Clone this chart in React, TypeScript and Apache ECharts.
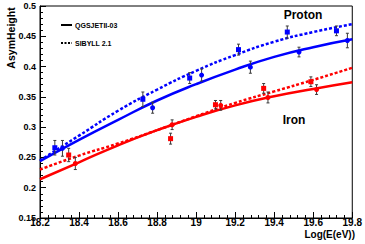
import React, { useEffect, useRef } from "react";
import * as echarts from "echarts";

// Model curves (Log(E/eV) vs AsymHeight)
const curveE = [18.2, 18.4, 18.6, 18.8, 19.0, 19.2, 19.4, 19.6, 19.8];
const protonQgsCurve = [0.244, 0.279, 0.312, 0.344, 0.371, 0.395, 0.416, 0.432, 0.445];
const protonSibCurve = [0.245, 0.286, 0.327, 0.362, 0.393, 0.419, 0.441, 0.457, 0.47];
const ironQgsCurve = [0.214, 0.242, 0.27, 0.295, 0.317, 0.336, 0.351, 0.363, 0.374];
const ironSibCurve = [0.23, 0.253, 0.273, 0.295, 0.318, 0.34, 0.359, 0.378, 0.398];

// Simulated points with errors
const protonSibE = [18.276, 18.727, 18.967, 19.217, 19.467, 19.719];
const protonSibV = [0.266, 0.346, 0.381, 0.428, 0.457, 0.459];
const protonSibErr = [0.012, 0.012, 0.009, 0.009, 0.01, 0.008];

const protonQgsE = [18.315, 18.777, 19.028, 19.278, 19.527, 19.775];
const protonQgsV = [0.265, 0.332, 0.386, 0.399, 0.424, 0.443];
const protonQgsErr = [0.013, 0.009, 0.01, 0.01, 0.008, 0.012];

const ironSibE = [18.347, 18.869, 19.099, 19.346, 19.588];
const ironSibV = [0.254, 0.281, 0.337, 0.364, 0.375];
const ironSibErr = [0.011, 0.009, 0.007, 0.008, 0.008];

const ironQgsE = [18.381, 18.877, 19.126, 19.368, 19.617];
const ironQgsV = [0.24, 0.304, 0.336, 0.349, 0.362];
const ironQgsErr = [0.01, 0.008, 0.008, 0.009, 0.008];

const legendLabels = ["QGSJETII-03", "SIBYLL 2.1"];
const yTitle = "AsymHeight";
const xTitle = "Log(E(eV))";

const FONT = "'Liberation Sans', Arial, Helvetica, sans-serif";
const BLUE = "#0000ff";
const RED = "#ff0000";

const zip2 = (a: number[], b: number[]) => a.map((v, i) => [v, b[i]]);
const zip3 = (a: number[], b: number[], c: number[]) => a.map((v, i) => [v, b[i], c[i]]);

export default function App() {
  const ref = useRef<HTMLDivElement>(null);
  useEffect(() => {
    if (!ref.current) return;
    const chart = echarts.init(ref.current, undefined, { renderer: "svg" });

    const curve = (name: string, data: number[][], color: string, dashed: boolean) => ({
      name,
      type: "line",
      data,
      smooth: true,
      showSymbol: false,
      symbol: "none",
      lineStyle: { color, width: 2.5, type: dashed ? [3, 2] : "solid" },
      z: 2,
      silent: true,
    });

    const errBars = (data: number[][]) => ({
      type: "custom",
      data,
      encode: { x: 0, y: 1 },
      z: 3,
      silent: true,
      renderItem: (params: any, api: any) => {
        const x = api.value(0);
        const y = api.value(1);
        const e = api.value(2);
        const t = api.coord([x, y + e]);
        const b = api.coord([x, y - e]);
        const st = { stroke: "#3a3a3a", lineWidth: 1 };
        return {
          type: "group",
          children: [
            { type: "line", shape: { x1: t[0], y1: t[1], x2: b[0], y2: b[1] }, style: st },
            { type: "line", shape: { x1: t[0] - 1.5, y1: t[1], x2: t[0] + 1.5, y2: t[1] }, style: st },
            { type: "line", shape: { x1: b[0] - 1.5, y1: b[1], x2: b[0] + 1.5, y2: b[1] }, style: st },
          ],
        };
      },
    });

    const pts = (data: number[][], color: string, symbol: string) => ({
      type: "scatter",
      data,
      symbol,
      symbolSize: 5,
      itemStyle: { color, opacity: 1 },
      z: 4,
      silent: true,
    });

    chart.setOption({
      animation: false,
      backgroundColor: "#ffffff",
      grid: {
        left: 40,
        right: 10,
        top: 6,
        bottom: 26,
        show: true,
        borderColor: "#000",
        borderWidth: 1,
        backgroundColor: "transparent",
      },
      xAxis: {
        type: "value",
        min: 18.2,
        max: 19.8,
        interval: 0.2,
        axisLine: { show: true, onZero: false, lineStyle: { color: "#000", width: 1 } },
        axisTick: { show: true, inside: true, length: 6, lineStyle: { color: "#000" } },
        minorTick: { show: true, splitNumber: 5, length: 3, lineStyle: { color: "#000" } },
        splitLine: { show: false },
        axisLabel: {
          color: "#000",
          fontFamily: FONT,
          fontWeight: "bold",
          fontSize: 10,
          margin: -1,
          formatter: (v: number) => String(parseFloat(v.toFixed(1))),
        },
      },
      yAxis: {
        type: "value",
        min: 0.15,
        max: 0.5,
        interval: 0.05,
        axisLine: { show: true, onZero: false, lineStyle: { color: "#000", width: 1 } },
        axisTick: { show: true, inside: true, length: 6, lineStyle: { color: "#000" } },
        minorTick: { show: true, splitNumber: 5, length: 3, lineStyle: { color: "#000" } },
        splitLine: { show: false },
        axisLabel: {
          color: "#000",
          fontFamily: FONT,
          fontWeight: "bold",
          fontSize: 9,
          margin: 4,
          formatter: (v: number) => String(parseFloat(v.toFixed(2))),
        },
      },
      graphic: [
        {
          type: "text",
          x: 11,
          y: 38,
          rotation: Math.PI / 2,
          style: {
            text: yTitle,
            fill: "#000",
            font: `bold 10.5px ${FONT}`,
            align: "center",
            verticalAlign: "middle",
          },
        },
        {
          type: "text",
          x: 355,
          y: 234,
          style: {
            text: xTitle,
            fill: "#000",
            font: `bold 10px ${FONT}`,
            align: "right",
            verticalAlign: "middle",
          },
        },
        {
          type: "text",
          x: 303,
          y: 15,
          style: { text: "Proton", fill: "#000", font: `bold 12px ${FONT}`, align: "center", verticalAlign: "middle" },
        },
        {
          type: "text",
          x: 294,
          y: 120,
          style: { text: "Iron", fill: "#000", font: `bold 12px ${FONT}`, align: "center", verticalAlign: "middle" },
        },
        {
          type: "line",
          shape: { x1: 61, y1: 25, x2: 72, y2: 25 },
          style: { stroke: "#000", lineWidth: 2 },
        },
        {
          type: "text",
          x: 75,
          y: 25,
          style: { text: legendLabels[0], fill: "#000", font: `bold 7px ${FONT}`, align: "left", verticalAlign: "middle" },
        },
        {
          type: "line",
          shape: { x1: 61, y1: 43, x2: 72, y2: 43 },
          style: { stroke: "#000", lineWidth: 2, lineDash: [2, 1.5] },
        },
        {
          type: "text",
          x: 75,
          y: 43,
          style: { text: legendLabels[1], fill: "#000", font: `bold 7px ${FONT}`, align: "left", verticalAlign: "middle" },
        },
      ],
      series: [
        curve("Proton QGSJETII-03", zip2(curveE, protonQgsCurve), BLUE, false),
        curve("Proton SIBYLL 2.1", zip2(curveE, protonSibCurve), BLUE, true),
        curve("Iron QGSJETII-03", zip2(curveE, ironQgsCurve), RED, false),
        curve("Iron SIBYLL 2.1", zip2(curveE, ironSibCurve), RED, true),
        errBars(zip3(protonSibE, protonSibV, protonSibErr)),
        errBars(zip3(protonQgsE, protonQgsV, protonQgsErr)),
        errBars(zip3(ironSibE, ironSibV, ironSibErr)),
        errBars(zip3(ironQgsE, ironQgsV, ironQgsErr)),
        pts(zip2(protonSibE, protonSibV), BLUE, "rect"),
        pts(zip2(protonQgsE, protonQgsV), BLUE, "circle"),
        pts(zip2(ironSibE, ironSibV), RED, "rect"),
        pts(zip2(ironQgsE, ironQgsV), RED, "circle"),
      ],
    });
    return () => chart.dispose();
  }, []);
  return (
    <div
      ref={ref}
      style={{ position: "fixed", left: 0, top: 0, width: 365, height: 244, background: "#fff" }}
    />
  );
}
